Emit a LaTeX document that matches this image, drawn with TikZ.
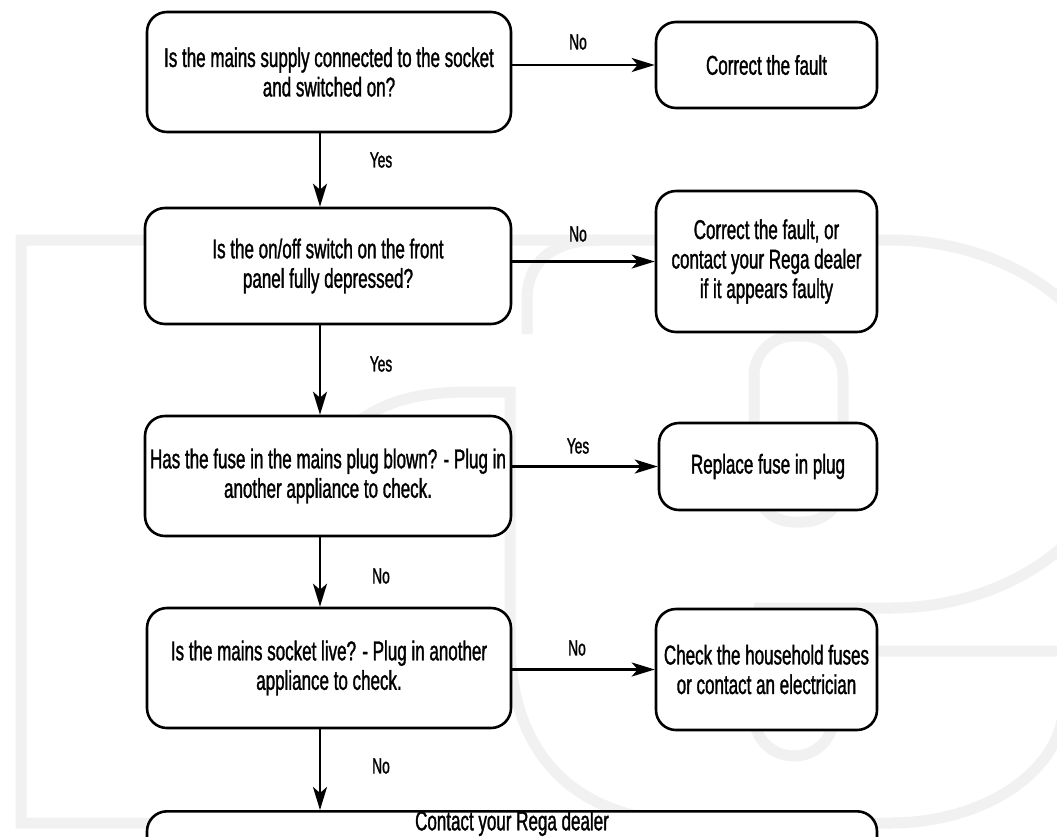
\documentclass[tikz,border=0pt]{standalone}
\usepackage{fontspec}
\setmainfont{Liberation Sans}[FakeStretch=0.625,FakeBold=1.2]
\usetikzlibrary{arrows.meta}
\definecolor{wm}{gray}{0.945}
\begin{document}
\begin{tikzpicture}[x=1pt,y=-1pt,
  box/.style={draw, line width=2.6pt, rounded corners=20pt, fill=white, align=center, inner sep=2pt, font=\fontsize{27.2}{29.5}\selectfont},
  lbl/.style={font=\fontsize{22}{24}\selectfont, inner sep=0pt},
  arr/.style={line width=2.5pt, -{Stealth[length=23pt,width=14pt,inset=6pt]}},
  wmk/.style={draw=wm, line width=11pt}]
\useasboundingbox (0,0) rectangle (1057,836);
\fill[white] (0,0) rectangle (1057,836);
\clip (0,0) rectangle (1057,836);
% watermark
\draw[wmk] (754,608) -- (890,608) arc[start angle=90,end angle=-90,x radius=232,y radius=184] -- (21,240) -- (21,823) -- (890,823) arc[start angle=90,end angle=0,x radius=174,y radius=120];
\draw[wmk] (527,334) -- (527,300) .. controls (527,262) and (552,240) .. (600,240);
\draw[wmk] (335,445) .. controls (370,400) and (420,392) .. (470,392) -- (510,392) -- (510,640) .. controls (510,760) and (580,823) .. (700,823);
\draw[wmk, rounded corners=40pt] (754,336) rectangle (843,522);
\draw[wmk] (1100,651) -- (754,651) -- (754,716) arc[start angle=180,end angle=0,radius=40] -- (834,651);
% boxes
\node[box, minimum width=364pt, minimum height=120pt] (q1) at (329,72) {Is the mains supply connected to the socket\\and switched on?};
\node[box, minimum width=221pt, minimum height=86pt] (r1) at (766.5,65) {Correct the fault};
\node[box, minimum width=366pt, minimum height=116pt] (q2) at (328,266) {Is the on/off switch on the front\\panel fully depressed?};
\node[box, minimum width=221pt, minimum height=141pt] (r2) at (766.5,261.5) {Correct the fault, or\\contact your Rega dealer\\if it appears faulty};
\node[box, minimum width=366pt, minimum height=120pt] (q3) at (328,476) {Has the fuse in the mains plug blown? - Plug in\\another appliance to check.};
\node[box, minimum width=218pt, minimum height=87pt] (r3) at (768,466.5) {Replace fuse in plug};
\node[box, minimum width=364pt, minimum height=120pt] (q4) at (329,668) {Is the mains socket live? - Plug in another\\appliance to check.};
\node[box, minimum width=221pt, minimum height=121pt] (r4) at (766.5,669.5) {Check the household fuses\\or contact an electrician};
\node[box, minimum width=730pt, anchor=north, text height=19pt, text depth=40pt, inner ysep=0pt] (b) at (512,810) {Contact your Rega dealer};
% labels
\node[lbl] (ly1) at (381,160) {Yes};
\node[lbl] (ly2) at (381,364) {Yes};
\node[lbl] (ln3) at (381,576) {No};
\node[lbl] (ln4) at (381,766) {No};
\node[lbl] (ln1) at (578,42) {No};
\node[lbl] (ln2) at (578,234) {No};
\node[lbl] (ly3) at (578,446) {Yes};
\node[lbl] (ln5) at (577,648) {No};
% connectors
\coordinate (ax) at (320,0);
\draw[arr] (q1.south -| ax) -- (q2.north -| ax);
\draw[arr] (q2.south -| ax) -- (q3.north -| ax);
\draw[arr] (q3.south -| ax) -- (q4.north -| ax);
\draw[arr] (q4.south -| ax) -- (b.north -| ax);
\draw[arr] (q1.east |- r1.west) -- (r1.west);
\draw[arr] (q2.east |- r2.west) -- (r2.west);
\draw[arr] (q3.east |- r3.west) -- (r3.west);
\draw[arr] (q4.east |- r4.west) -- (r4.west);
\end{tikzpicture}
\end{document}
